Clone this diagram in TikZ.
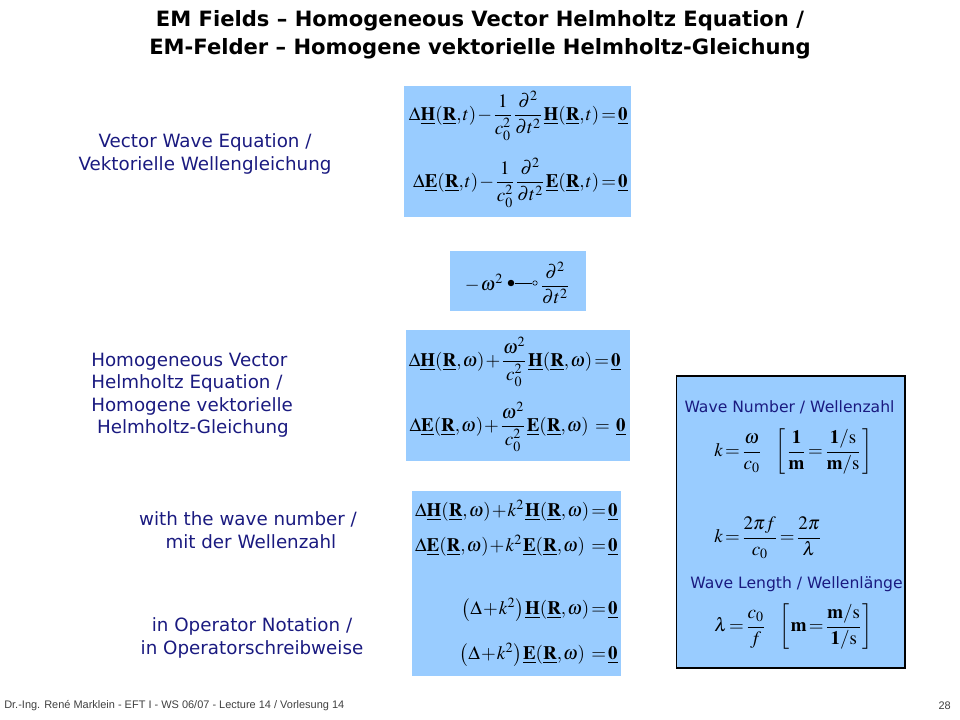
\documentclass[tikz,border=0pt]{standalone}
\usepackage{fontspec}
\usepackage{amsmath}
\usepackage{mathptmx}
\setmainfont{DejaVu Sans}
\newfontfamily\footfont{Liberation Sans}
\usepackage{tikz}
\definecolor{panelblue}{HTML}{99CCFF}
\definecolor{textnavy}{HTML}{1A1A80}
\newcommand{\uvec}[1]{\underline{\mathbf{#1}}}
\newcommand{\fieldt}[1]{\uvec{#1}(\uvec{R},t)}
\newcommand{\fieldw}[1]{\uvec{#1}(\uvec{R},\omega)}
\newcommand{\dtt}{\dfrac{\partial^2}{\partial t^2}}
\newcommand{\tightmath}{\medmuskip=1mu\relax\thickmuskip=2mu\relax\thinmuskip=1mu\relax}
\tikzset{
  panel/.style={fill=panelblue,draw=none,inner sep=0pt,anchor=north west},
  eqn/.style={inner sep=0pt,font=\fontsize{13.5}{16}\selectfont\tightmath,anchor=east},
  lbl/.style={inner sep=0pt,text=textnavy,font=\fontsize{13}{16}\selectfont},
  head/.style={lbl,font=\fontsize{11.1}{13}\selectfont}
}
\begin{document}
\begin{tikzpicture}[x=0.025cm,y=-0.025cm]
\useasboundingbox (0,0) rectangle (960,720);
% title
\node[inner sep=0pt,align=center,font=\fontsize{15}{20}\selectfont\bfseries] (title) at (480,35)
  {EM Fields -- Homogeneous Vector Helmholtz Equation /\\EM-Felder -- Homogene vektorielle Helmholtz-Gleichung};

% blue panels
\node[panel,minimum width=5.675cm,minimum height=3.275cm] (waveP) at (404,86) {};
\node[panel,minimum width=3.4cm,minimum height=1.5cm] (corrP) at (450,251) {};
\node[panel,minimum width=5.6cm,minimum height=3.275cm] (helmP) at (406,330) {};
\node[panel,minimum width=5.225cm,minimum height=4.625cm] (numP) at (412,491) {};
\node[panel,draw=black,line width=1.4pt,minimum width=5.7cm,minimum height=7.275cm] (infoP) at (675.5,375.5) {};

% left labels
\node[lbl,align=center] (waveL) at (205,154) {Vector Wave Equation /\\Vektorielle Wellengleichung};
\node[lbl,align=left,anchor=west] (helmL) at (91,395) {Homogeneous Vector\\Helmholtz Equation /\\Homogene vektorielle\\\ Helmholtz-Gleichung};
\node[lbl,align=center] (numL) at (248,530) {with the wave number /\\\ mit der Wellenzahl};
\node[lbl,align=center] (opL) at (252,638) {in Operator Notation /\\in Operatorschreibweise};

% wave equation
\node[eqn] (waveH) at (628,116) {$\Delta\fieldt{H}-\dfrac{1}{c_0^2}\,\dtt\,\fieldt{H}=\uvec{0}$};
\node[eqn] (waveE) at (628,183) {$\Delta\fieldt{E}-\dfrac{1}{c_0^2}\,\dtt\,\fieldt{E}=\uvec{0}$};

% correspondence
\node[eqn,anchor=center] (omg) at (484,283) {$-\,\omega^2$};
\node[circle,fill=black,inner sep=0pt,minimum size=4.6pt] (full) at (511,283) {};
\node[circle,draw=black,fill=panelblue,line width=0.4pt,inner sep=0pt,minimum size=3.2pt] (open) at (535,283) {};
\node[eqn,anchor=center] (dt) at (555,283) {$\dtt$};
\draw[line width=0.5pt] (full) -- (open);

% helmholtz equation
\node[eqn] (helmH) at (621,362) {$\Delta\fieldw{H}+\dfrac{\omega^2}{c_0^2}\,\fieldw{H}=\uvec{0}$};
\node[eqn] (helmE) at (626,427) {$\Delta\fieldw{E}+\dfrac{\omega^2}{c_0^2}\,\fieldw{E}\;\;=\;\;\uvec{0}$};

% with k
\node[eqn] (numH) at (618,511) {$\Delta\fieldw{H}+k^2\,\fieldw{H}=\uvec{0}$};
\node[eqn] (numE) at (618,546) {$\Delta\fieldw{E}+k^2\,\fieldw{E}\;\;=\uvec{0}$};
\node[eqn] (opH) at (618,610) {$\left(\Delta+k^2\right)\fieldw{H}=\uvec{0}$};
\node[eqn] (opE) at (618,655) {$\left(\Delta+k^2\right)\fieldw{E}\;\;=\uvec{0}$};

% info panel
\node[head] (numT) at (789.5,407) {Wave Number / Wellenzahl};
\node[eqn,anchor=west] (kA) at (714,452) {$k=\dfrac{\omega}{c_0}\hspace{0.7em}\left[\,\dfrac{\mathbf{1}}{\mathbf{m}}=\dfrac{\mathbf{1}/\mathrm{s}}{\mathbf{m}/\mathrm{s}}\,\right]$};
\node[eqn,anchor=west] (kB) at (714,538) {$k=\dfrac{2\pi f}{c_0}=\dfrac{2\pi}{\lambda}$};
\node[head] (lenT) at (796.5,584) {Wave Length / Wellenlänge};
\node[eqn,anchor=west] (lam) at (714,627) {$\lambda=\dfrac{c_0}{f}\hspace{0.7em}\left[\,\mathbf{m}=\dfrac{\mathbf{m}/\mathrm{s}}{\mathbf{1}/\mathrm{s}}\,\right]$};

% footer
\node[inner sep=0pt,anchor=west,text=black!75,font=\footfont\fontsize{7.8}{9}\selectfont] (foot) at (4,706) {Dr.-Ing. René Marklein - EFT I - WS 06/07 - Lecture 14 / Vorlesung 14};
\node[inner sep=0pt,anchor=east,text=black!75,font=\footfont\fontsize{7.8}{9}\selectfont] (page) at (951,706) {28};
\end{tikzpicture}
\end{document}
